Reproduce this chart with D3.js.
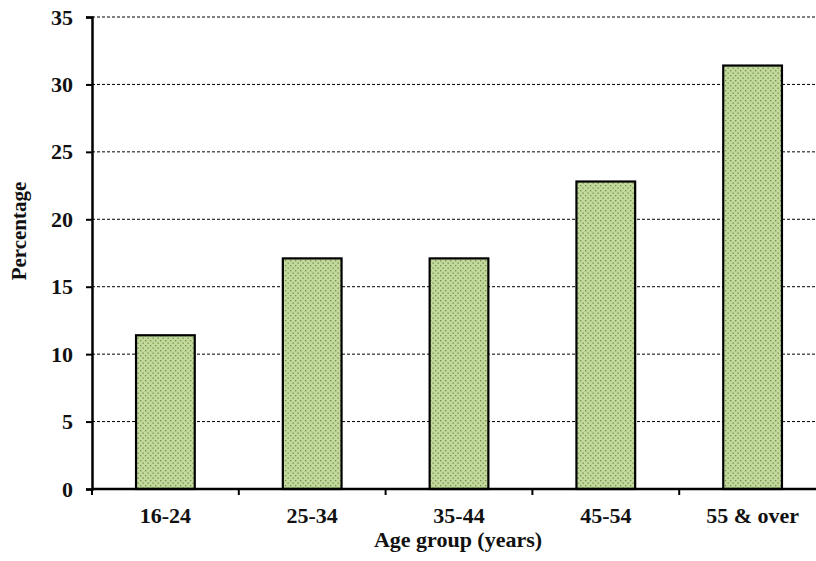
<!DOCTYPE html>
<html>
<head>
<meta charset="utf-8">
<script src="https://cdn.jsdelivr.net/npm/d3@7"></script>
<style>
  body { margin: 0; background: #fff; }
  text { font-family: "Liberation Serif", "Times New Roman", serif; font-weight: bold; fill: #111; }
</style>
</head>
<body>
<div class="chart"></div>
<script>
// data
const ageGroups = ["16-24", "25-34", "35-44", "45-54", "55 & over"];
const percentages = [11.4, 17.1, 17.1, 22.8, 31.4];
const yTicks = [0, 5, 10, 15, 20, 25, 30, 35];

const w = 816, h = 561;
const padLeft = 92, padTop = 17, axisY = 489;

const svg = d3.select(".chart").append("svg")
  .attr("width", w)
  .attr("height", h);

// dotted fill for the bars
const defs = svg.append("defs");
const pat = defs.append("pattern")
  .attr("id", "dots")
  .attr("patternUnits", "userSpaceOnUse")
  .attr("width", 5)
  .attr("height", 5);
pat.append("rect").attr("width", 5).attr("height", 5).attr("fill", "#c3d89c");
pat.append("rect").attr("x", 0).attr("y", 0).attr("width", 1.3).attr("height", 1.3).attr("fill", "#6f8f46");
pat.append("rect").attr("x", 2.5).attr("y", 2.5).attr("width", 1.3).attr("height", 1.3).attr("fill", "#6f8f46");

const x = d3.scaleBand()
  .domain(ageGroups)
  .range([padLeft, padLeft + 734])
  .paddingInner(0.6)
  .paddingOuter(0.3);

const y = d3.scaleLinear()
  .domain([0, 35])
  .range([axisY, padTop]);

// dashed gridlines
svg.append("g")
  .selectAll("line")
  .data(yTicks.filter(d => d > 0))
  .enter()
  .append("line")
  .attr("x1", padLeft)
  .attr("x2", w)
  .attr("y1", d => y(d))
  .attr("y2", d => y(d))
  .attr("stroke", "#000")
  .attr("stroke-width", 1)
  .attr("stroke-dasharray", "3,2");

// bars
svg.append("g")
  .selectAll("rect")
  .data(percentages)
  .enter()
  .append("rect")
  .attr("x", (d, i) => x(ageGroups[i]))
  .attr("y", d => y(d))
  .attr("width", x.bandwidth())
  .attr("height", d => axisY - y(d))
  .attr("fill", "url(#dots)")
  .attr("stroke", "#000")
  .attr("stroke-width", 2.2);

// y axis
const yAxis = d3.axisLeft(y).tickValues(yTicks).tickSize(6).tickPadding(13);
const gy = svg.append("g")
  .attr("transform", "translate(" + padLeft + ",0)")
  .call(yAxis);
gy.select(".domain").attr("stroke-width", 2.5);
gy.selectAll(".tick line").attr("stroke-width", 2);
gy.selectAll("text").style("font-size", "22px").attr("font-family", null);

// x axis, ticks between the groups
const gx = svg.append("g")
  .attr("transform", "translate(0," + axisY + ")");
gx.append("line")
  .attr("x1", padLeft).attr("x2", w)
  .attr("y1", 0).attr("y2", 0)
  .attr("stroke", "#000").attr("stroke-width", 2.5);
const step = x.step();
gx.selectAll(".sep")
  .data(d3.range(ageGroups.length))
  .enter()
  .append("line")
  .attr("x1", i => padLeft + i * step)
  .attr("x2", i => padLeft + i * step)
  .attr("y1", 0).attr("y2", 6)
  .attr("stroke", "#000").attr("stroke-width", 2);
gx.selectAll(".lab")
  .data(ageGroups)
  .enter()
  .append("text")
  .attr("x", d => x(d) + x.bandwidth() / 2)
  .attr("y", 34)
  .attr("text-anchor", "middle")
  .style("font-size", "22px")
  .text(d => d);

// axis titles
svg.append("text")
  .attr("transform", "translate(26,231) rotate(-90)")
  .attr("text-anchor", "middle")
  .style("font-size", "21px")
  .text("Percentage");

svg.append("text")
  .attr("x", 458)
  .attr("y", 547)
  .attr("text-anchor", "middle")
  .style("font-size", "22px")
  .text("Age group (years)");
</script>
</body>
</html>
